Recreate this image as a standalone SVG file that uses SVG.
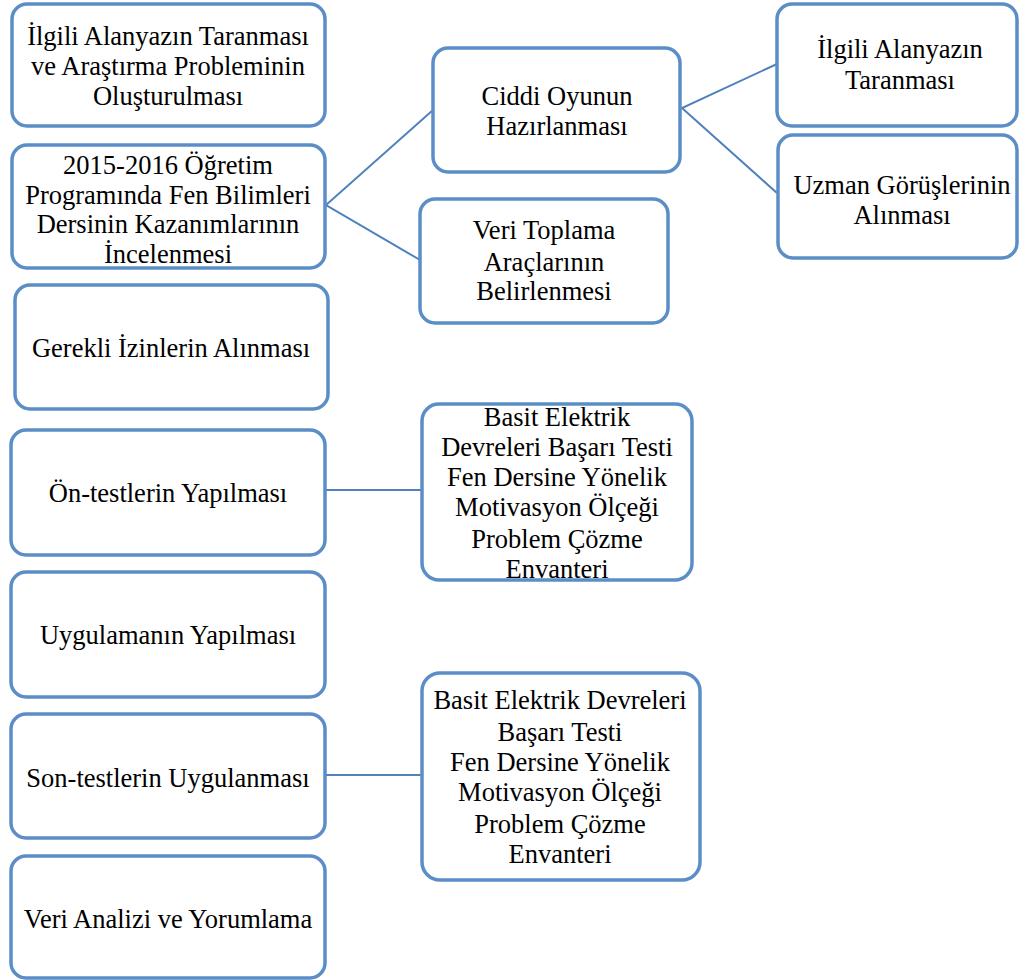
<svg xmlns="http://www.w3.org/2000/svg" width="1020" height="980" viewBox="0 0 1020 980">
<style>
.box{fill:#fff;stroke:#5b8ec6;stroke-width:3.5}
.t{font-family:"Liberation Serif","Times New Roman",serif;font-size:26.5px;fill:#000;text-anchor:middle}
.c{stroke:#4f81bd;stroke-width:2;fill:none}
</style>
<rect width="1020" height="980" fill="#fff"/>
<g id="connectors">
<polyline class="c" points="433,110 326,205 420,260"/>
<polyline class="c" points="777,64 682,108 777,193"/>
<line class="c" x1="326" y1="490" x2="422" y2="490"/>
<line class="c" x1="326" y1="775" x2="422" y2="775"/>
</g>
<g id="n1"><rect class="box" x="12" y="4" width="313" height="122" rx="15"/>
<text class="t"><tspan x="168" y="45">İlgili Alanyazın Taranması</tspan><tspan x="168" y="75">ve Araştırma Probleminin</tspan><tspan x="168" y="105">Oluşturulması</tspan></text></g>
<g id="n2"><rect class="box" x="12" y="145" width="313" height="123" rx="15"/>
<text class="t"><tspan x="168" y="174">2015-2016 Öğretim</tspan><tspan x="168" y="204">Programında Fen Bilimleri</tspan><tspan x="168" y="233">Dersinin Kazanımlarının</tspan><tspan x="168" y="263">İncelenmesi</tspan></text></g>
<g id="n3"><rect class="box" x="15" y="285" width="313" height="124" rx="15"/>
<text class="t" x="171" y="357">Gerekli İzinlerin Alınması</text></g>
<g id="n4"><rect class="box" x="11" y="430" width="314" height="125" rx="15"/>
<text class="t" x="168" y="502">Ön-testlerin Yapılması</text></g>
<g id="n5"><rect class="box" x="11" y="572" width="314" height="125" rx="15"/>
<text class="t" x="168" y="644">Uygulamanın Yapılması</text></g>
<g id="n6"><rect class="box" x="11" y="714" width="314" height="124" rx="15"/>
<text class="t" x="168" y="787">Son-testlerin Uygulanması</text></g>
<g id="n7"><rect class="box" x="11" y="856" width="314" height="122" rx="15"/>
<text class="t" x="168" y="928">Veri Analizi ve Yorumlama</text></g>
<g id="n8"><rect class="box" x="433" y="48" width="247" height="124" rx="15"/>
<text class="t"><tspan x="557" y="105">Ciddi Oyunun</tspan><tspan x="557" y="135">Hazırlanması</tspan></text></g>
<g id="n9"><rect class="box" x="420" y="199" width="248" height="124" rx="15"/>
<text class="t"><tspan x="544" y="239">Veri Toplama</tspan><tspan x="544" y="271">Araçlarının</tspan><tspan x="544" y="300">Belirlenmesi</tspan></text></g>
<g id="n10"><rect class="box" x="777" y="4" width="240" height="122" rx="15"/>
<text class="t"><tspan x="900" y="58">İlgili Alanyazın</tspan><tspan x="900" y="89">Taranması</tspan></text></g>
<g id="n11"><rect class="box" x="778" y="135" width="239" height="123" rx="15"/>
<text class="t"><tspan x="902" y="194">Uzman Görüşlerinin</tspan><tspan x="902" y="224">Alınması</tspan></text></g>
<g id="n12"><rect class="box" x="422" y="404" width="270" height="176" rx="17"/>
<text class="t"><tspan x="557" y="426">Basit Elektrik</tspan><tspan x="557" y="456">Devreleri Başarı Testi</tspan><tspan x="557" y="486">Fen Dersine Yönelik</tspan><tspan x="557" y="516">Motivasyon Ölçeği</tspan><tspan x="557" y="548">Problem Çözme</tspan><tspan x="557" y="578">Envanteri</tspan></text></g>
<g id="n13"><rect class="box" x="422" y="673" width="278" height="207" rx="18"/>
<text class="t"><tspan x="560" y="709">Basit Elektrik Devreleri</tspan><tspan x="560" y="741">Başarı Testi</tspan><tspan x="560" y="771">Fen Dersine Yönelik</tspan><tspan x="560" y="801">Motivasyon Ölçeği</tspan><tspan x="560" y="833">Problem Çözme</tspan><tspan x="560" y="863">Envanteri</tspan></text></g>
</svg>
